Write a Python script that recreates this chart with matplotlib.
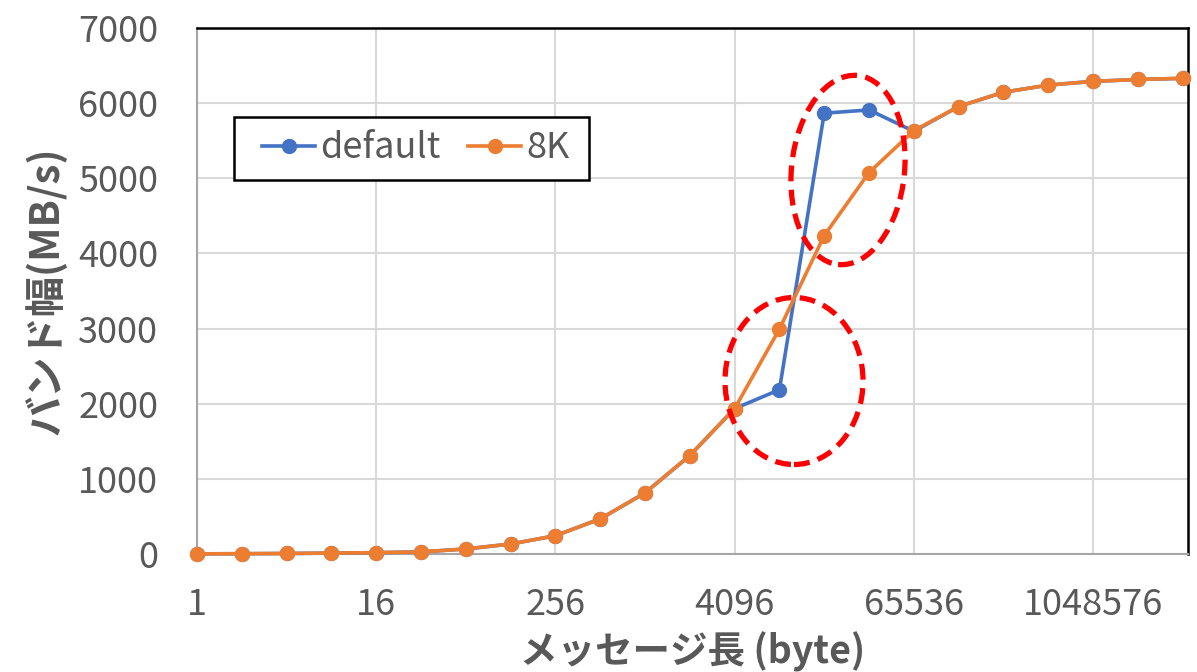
import matplotlib
matplotlib.use("Agg")
import matplotlib.pyplot as plt
from matplotlib.patches import Ellipse, Rectangle
from matplotlib.transforms import IdentityTransform

plt.rcParams['font.family'] = ['Noto Sans CJK JP', 'DejaVu Sans']

sizes = [1, 2, 4, 8, 16, 32, 64, 128, 256, 512, 1024, 2048, 4096, 8192,
         16384, 32768, 65536, 131072, 262144, 524288, 1048576, 2097152, 4194304]
default_bw = [2, 4, 7, 12, 18, 28, 67, 133, 243, 467, 813, 1310, 1935, 2186,
              5866, 5910, 5625, 5955, 6145, 6240, 6290, 6315, 6330]
eightk_bw = [2, 4, 7, 12, 18, 28, 67, 133, 243, 467, 813, 1310, 1935, 2993,
             4238, 5076, 5635, 5955, 6145, 6240, 6290, 6315, 6330]
xtick_vals = [1, 16, 256, 4096, 65536, 1048576]
xtick_labels = ["1", "16", "256", "4096", "65536", "1048576"]
ytick_vals = [0, 1000, 2000, 3000, 4000, 5000, 6000, 7000]
series_names = ["default", "8K"]

W, H = 1197, 672
fig = plt.figure(figsize=(W / 100, H / 100), dpi=100)
ax = fig.add_axes([197 / W, 1 - 554 / H, (1188 - 197) / W, (554 - 28) / H])

blue = "#4472C4"
orange = "#ED7D31"
gray_txt = "#595959"

ax.plot(sizes, default_bw, color=blue, lw=2.6, marker="o", ms=10, label=series_names[0],
        zorder=3, clip_on=False)
ax.plot(sizes, eightk_bw, color=orange, lw=2.6, marker="o", ms=10, label=series_names[1],
        zorder=4, clip_on=False)

ax.set_xscale("log", base=2)
ax.set_xlim(1, 2 ** 22.12)
ax.set_ylim(0, 7000)
ax.set_xticks(xtick_vals)
ax.set_xticklabels(xtick_labels)
ax.xaxis.set_minor_locator(matplotlib.ticker.NullLocator())
ax.set_yticks(ytick_vals)
ax.set_yticklabels([str(v) for v in ytick_vals])

ax.grid(True, color="#D9D9D9", lw=1.5, zorder=0)
ax.set_axisbelow(True)
ax.tick_params(length=0, labelsize=26, labelcolor=gray_txt)
ax.tick_params(axis="y", pad=28)
ax.tick_params(axis="x", pad=24)

for s in ["left", "bottom"]:
    ax.spines[s].set_color("#A6A6A6")
    ax.spines[s].set_linewidth(1.5)
for s in ["top", "right"]:
    ax.spines[s].set_color("black")
    ax.spines[s].set_linewidth(1.8)

ax.set_ylabel("バンド幅(MB/s)", fontsize=29, fontweight="bold", color=gray_txt)
ax.set_xlabel("メッセージ長 (byte)", fontsize=27, fontweight="bold", color=gray_txt)
ax.yaxis.set_label_coords(-150 / (1188 - 197), 0.5)
ax.xaxis.set_label_coords(0.5, -(652 - 554) / (554 - 28))
ax.xaxis.label.set_verticalalignment("center")
ax.yaxis.label.set_verticalalignment("center")

# legend (frame drawn separately in pixel coordinates)
frame = Rectangle((234, H - 180), 589 - 234, 180 - 117, transform=IdentityTransform(),
                  fill=True, facecolor="white", edgecolor="black", lw=1.8, zorder=8,
                  clip_on=False)
ax.add_patch(frame)
leg = ax.legend(loc="center left",
                bbox_to_anchor=(262, H - 148.5), bbox_transform=IdentityTransform(),
                ncol=2, fontsize=26, frameon=False,
                handlelength=1.47, columnspacing=0.75, handletextpad=0.15, borderpad=0,
                borderaxespad=0)
leg.set_zorder(20)
for t in leg.get_texts():
    t.set_color(gray_txt)

# red dashed ellipses (pixel coordinates)
for cx, cy, w, h, ang in [(794, 381, 138, 167, 0), (848, 170, 113, 190, -6)]:
    e = Ellipse((cx, H - cy), w, h, angle=ang, transform=IdentityTransform(),
                fill=False, edgecolor="#FF0000", lw=3.8, ls=(0, (3, 1.6)), zorder=10)
    fig.patches.append(e)

fig.savefig("out.png", dpi=100)
